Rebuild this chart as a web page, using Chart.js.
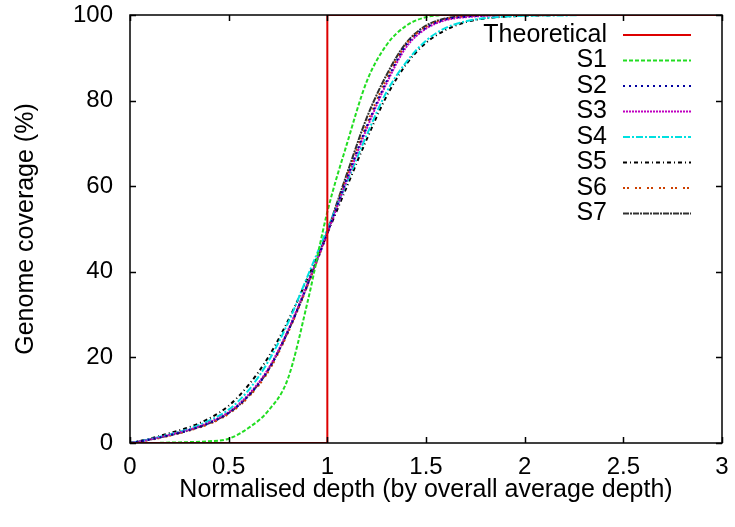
<!DOCTYPE html>
<html>
<head>
<meta charset="utf-8">
<script src="https://cdn.jsdelivr.net/npm/chart.js@4.4.0/dist/chart.umd.min.js"></script>
<style>
  html, body { margin: 0; padding: 0; background: #fff; }
  #box { width: 735px; height: 527px; }
</style>
</head>
<body>
<div id="box"><canvas id="myChart"></canvas></div>
<script>
// normalised depth (x values shared by the sample curves)
const depth = [0, 0.1, 0.2, 0.3, 0.4, 0.5, 0.6, 0.7, 0.8, 0.9, 1.0,
               1.1, 1.2, 1.3, 1.4, 1.5, 1.6, 1.7, 1.8, 1.9, 2.0,
               2.1, 2.2, 2.3, 2.4, 2.5, 2.6, 2.7, 2.8, 2.9, 3.0];

// theoretical step
const theoX = [0, 1, 1, 3];
const theoY = [0, 0, 100, 100];

// genome coverage (%) per sample
const s1 = [0, 0, 0.1, 0.2, 0.4, 1, 3.5, 7.5, 15, 33, 54,
            70, 84.5, 93, 97.5, 99.5, 100, 100, 100, 100, 100,
            100, 100, 100, 100, 100, 100, 100, 100, 100, 100];
const s2 = [0, 0.8, 1.8, 3, 4.6, 7, 11, 17, 26, 37, 49,
            62, 74, 84.5, 93, 97, 99, 99.6, 99.9, 100, 100,
            100, 100, 100, 100, 100, 100, 100, 100, 100, 100];
const s3 = [0, 0.8, 1.9, 3.1, 4.8, 7.2, 11.3, 17.3, 26.3, 37.3, 49,
            61.5, 73.5, 84, 92.5, 96.8, 98.8, 99.5, 99.8, 100, 100,
            100, 100, 100, 100, 100, 100, 100, 100, 100, 100];
const s4 = [0, 0.9, 2, 3.3, 5.2, 7.8, 12.3, 19, 28, 39, 50,
            61, 72, 82, 89, 94, 97, 98.5, 99.3, 99.6, 99.8,
            99.9, 99.9, 100, 100, 100, 100, 100, 100, 100, 100];
const s5 = [0, 1, 2.3, 3.7, 5.7, 8.7, 13.5, 20, 28.5, 38.5, 49,
            60, 71, 81, 88.5, 93.5, 96.5, 98.3, 99.2, 99.6, 99.8,
            99.9, 100, 100, 100, 100, 100, 100, 100, 100, 100];
const s6 = [0, 0.7, 1.7, 2.9, 4.4, 6.8, 10.7, 16.6, 25.7, 36.8, 49,
            62.3, 74.5, 85, 93.2, 97.2, 99, 99.7, 99.9, 100, 100,
            100, 100, 100, 100, 100, 100, 100, 100, 100, 100];
const s7 = [0, 0.8, 1.8, 3, 4.6, 7, 11, 17, 26, 37, 49.5,
            63, 76, 86, 93.5, 97.5, 99.2, 99.8, 100, 100, 100,
            100, 100, 100, 100, 100, 100, 100, 100, 100, 100];

const xTicks = [0, 0.5, 1, 1.5, 2, 2.5, 3];
const yTicks = [0, 20, 40, 60, 80, 100];

function pts(xs, ys) {
    return xs.map((x, i) => ({x: x, y: ys[i]}));
}

function series(label, ys, color, dash) {
    return {
        label: label,
        data: pts(depth, ys),
        borderColor: color,
        borderWidth: 2,
        borderDash: dash,
        pointRadius: 0,
        fill: false,
        cubicInterpolationMode: 'monotone'
    };
}

const FONT = "'Liberation Sans', Arial, sans-serif";

// gnuplot style frame, inward ticks and legend
const framePlugin = {
    id: 'frame',
    afterDatasetsDraw(chart) {
        const ctx = chart.ctx;
        const a = chart.chartArea;
        const xs = chart.scales.x, ys = chart.scales.y;
        const tl = 6;
        ctx.save();
        ctx.strokeStyle = '#000';
        ctx.lineWidth = 1.5;
        ctx.setLineDash([]);
        ctx.strokeRect(a.left, a.top, a.right - a.left, a.bottom - a.top);
        ctx.beginPath();
        xTicks.forEach(v => {
            const px = Math.round(xs.getPixelForValue(v)) + 0.5;
            ctx.moveTo(px, a.bottom); ctx.lineTo(px, a.bottom - tl);
            ctx.moveTo(px, a.top); ctx.lineTo(px, a.top + tl);
        });
        yTicks.forEach(v => {
            const py = Math.round(ys.getPixelForValue(v)) + 0.5;
            ctx.moveTo(a.left, py); ctx.lineTo(a.left + tl, py);
            ctx.moveTo(a.right, py); ctx.lineTo(a.right - tl, py);
        });
        ctx.stroke();

        // legend, text right aligned with line sample to the right
        ctx.font = '25px ' + FONT;
        ctx.textAlign = 'right';
        ctx.textBaseline = 'middle';
        chart.data.datasets.forEach((ds, i) => {
            const y = 35 + i * 25.5;
            ctx.fillStyle = '#000';
            ctx.fillText(ds.label, 607, y);
            ctx.strokeStyle = ds.borderColor;
            ctx.lineWidth = 2;
            ctx.setLineDash(ds.borderDash || []);
            ctx.beginPath();
            ctx.moveTo(623, y);
            ctx.lineTo(691, y);
            ctx.stroke();
        });
        ctx.restore();
    }
};

const ctx = document.getElementById('myChart');

new Chart(ctx, {
    type: 'line',
    data: {
        datasets: [
            {
                label: 'Theoretical',
                data: pts(theoX, theoY),
                borderColor: '#dd0000',
                borderWidth: 2,
                borderDash: [],
                pointRadius: 0,
                fill: false,
                tension: 0
            },
            series('S1', s1, '#22dd22', [4, 2]),
            series('S2', s2, '#0000a0', [2, 4]),
            series('S3', s3, '#c000c0', [2, 1]),
            series('S4', s4, '#00e0e0', [7, 2, 2, 2]),
            series('S5', s5, '#000000', [4, 3, 1, 3]),
            series('S6', s6, '#cc4000', [2, 2, 2, 6]),
            series('S7', s7, '#303030', [6, 1, 2, 1])
        ]
    },
    options: {
        responsive: true,
        maintainAspectRatio: false,
        animation: false,
        layout: { padding: { left: 0, right: 13, top: 15, bottom: 0 } },
        plugins: {
            legend: { display: false },
            tooltip: { enabled: false }
        },
        scales: {
            x: {
                type: 'linear',
                min: 0,
                max: 3,
                afterFit: (s) => { s.height = 84; s.paddingLeft = 0; s.paddingRight = 0; },
                afterBuildTicks: (s) => { s.ticks = xTicks.map(v => ({value: v})); },
                grid: { display: false, drawTicks: false },
                border: { display: false },
                ticks: {
                    color: '#000',
                    padding: 10,
                    maxRotation: 0,
                    font: { family: FONT, size: 24 },
                    callback: (v) => String(v)
                },
                title: {
                    display: true,
                    text: 'Normalised depth (by overall average depth)',
                    color: '#000',
                    font: { family: FONT, size: 25 },
                    padding: { top: 0, bottom: 22 }
                }
            },
            y: {
                min: 0,
                max: 100,
                afterFit: (s) => { s.width = 130; s.paddingTop = 0; s.paddingBottom = 0; },
                afterBuildTicks: (s) => { s.ticks = yTicks.map(v => ({value: v})); },
                grid: { display: false, drawTicks: false },
                border: { display: false },
                ticks: {
                    color: '#000',
                    padding: 17,
                    font: { family: FONT, size: 24 }
                },
                title: {
                    display: true,
                    text: 'Genome coverage (%)',
                    color: '#000',
                    font: { family: FONT, size: 25 },
                    padding: { top: 11, bottom: 0 }
                }
            }
        }
    },
    plugins: [framePlugin]
});
</script>
</body>
</html>
